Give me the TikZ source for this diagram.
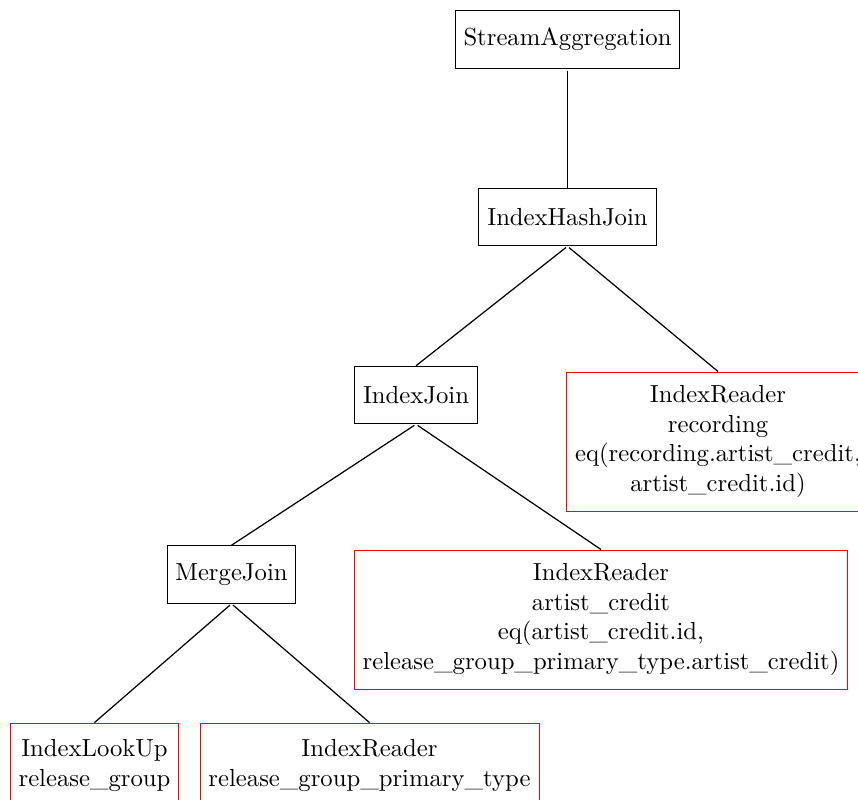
\documentclass[tikz,border=0pt]{standalone}
\begin{document}
\begin{tikzpicture}[x=0.405pt, y=-0.405pt,
  op/.style={draw=black, align=center, inner sep=3.33pt},
  scan/.style={draw=red, align=center, inner sep=3.33pt},
  edge/.style={draw=black, line width=0.5pt, shorten <=0.8pt}]
\useasboundingbox (0,0) rectangle (858,799);
% operator tree
\node[op, minimum width=91.1pt, minimum height=23.3pt] (agg) at (567.5,39.5) {StreamAggregation};
\node[op, minimum width=71.7pt, minimum height=23.3pt] (hj) at (567.5,217) {IndexHashJoin};
\node[op, minimum width=49.4pt, minimum height=23.3pt] (ij) at (416,395) {IndexJoin};
\node[scan, minimum width=122.3pt, minimum height=56.3pt] (rec) at (718,441.5)
  {IndexReader\\recording\\eq(recording.artist\_credit,\\artist\_credit.id)};
\node[op, minimum width=52.2pt, minimum height=23.3pt] (mj) at (231.5,574.5) {MergeJoin};
\node[scan, minimum width=200pt, minimum height=56.3pt] (ac) at (601,619.5)
  {IndexReader\\artist\_credit\\eq(artist\_credit.id,\\release\_group\_primary\_type.artist\_credit)};
\node[scan, minimum width=67.6pt, minimum height=34.4pt] (rg) at (94.5,765.5)
  {IndexLookUp\\release\_group};
\node[scan, minimum width=137.3pt, minimum height=34.4pt] (rgpt) at (369.5,765.5)
  {IndexReader\\release\_group\_primary\_type};
% connectors
\draw[edge] (agg.south) -- (hj.north);
\draw[edge] (hj.south) -- (ij.north);
\draw[edge] (hj.south) -- (rec.north);
\draw[edge] (ij.south) -- (mj.north);
\draw[edge] (ij.south) -- (ac.north);
\draw[edge] (mj.south) -- (rg.north);
\draw[edge] (mj.south) -- (rgpt.north);
\end{tikzpicture}
\end{document}
